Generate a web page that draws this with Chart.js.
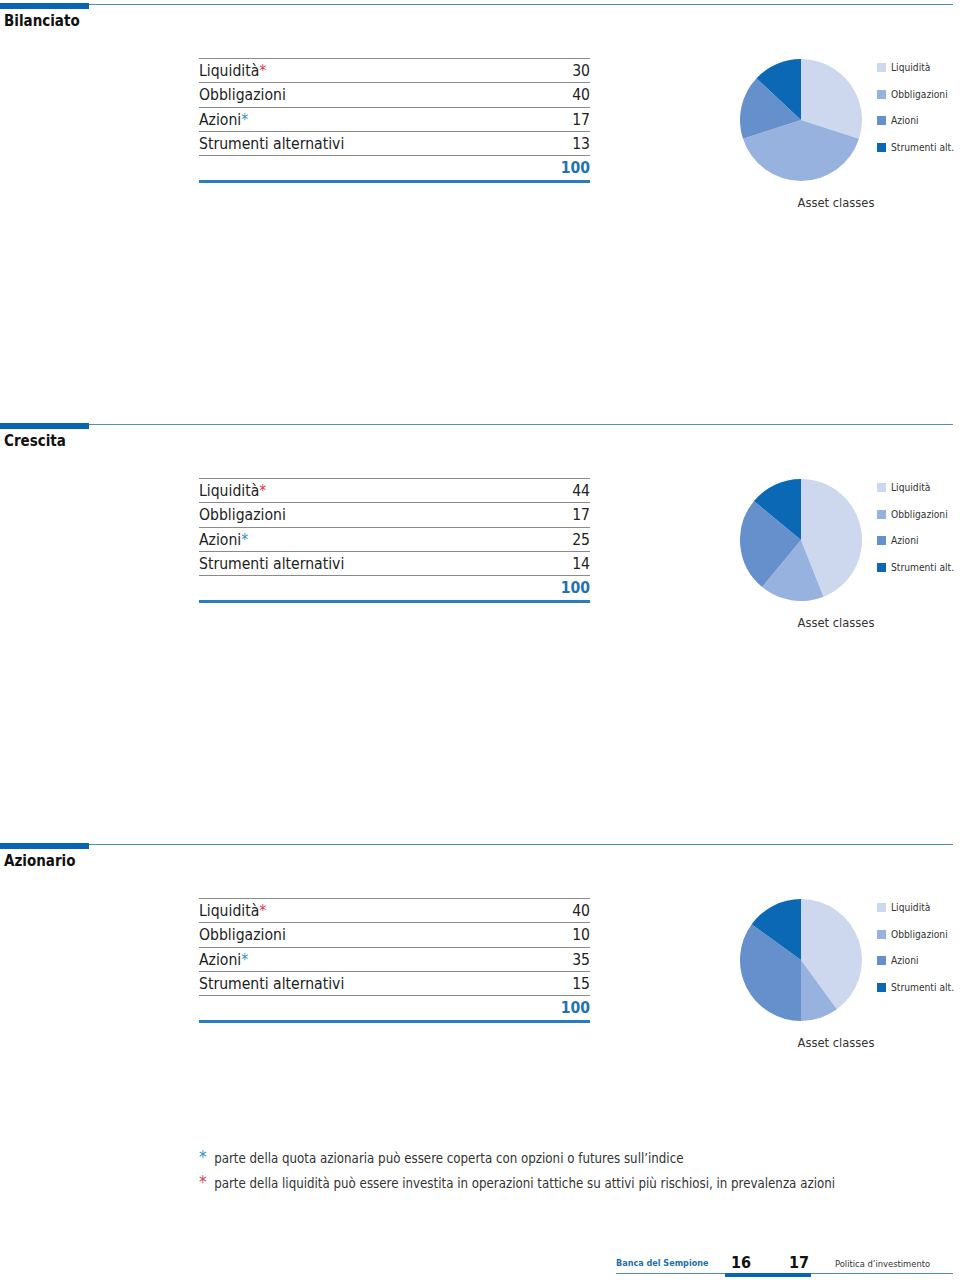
<!DOCTYPE html>
<html lang="it">
<head>
<meta charset="utf-8">
<title>Politica d'investimento - Asset classes</title>
<script src="https://cdn.jsdelivr.net/npm/chart.js@4/dist/chart.umd.min.js"></script>
<style>
    body { margin: 0; width: 960px; height: 1280px; background: #fff; position: relative;
           font-family: "DejaVu Sans Condensed", "DejaVu Sans", sans-serif; font-stretch: condensed; color: #222; overflow: hidden; }
    .abs { position: absolute; white-space: nowrap; }
    .rule-thin { height: 1px; background: #4d93a8; }
    .rule-thick { height: 6px; background: #0a64b4; }
    .title { font-weight: 700; font-size: 15px; color: #111; }
    .row { left: 199px; width: 391px; height: 24px; border-top: 1px solid #8a8a8a; font-size: 15.6px; line-height: 24px; }
    .row .val { position: absolute; right: 0; top: 0; }
    .total { left: 199px; width: 391px; height: 24px; border-top: 1px solid #8a8a8a; border-bottom: 3px solid #2a7cbf;
             font-size: 15.6px; line-height: 24px; font-weight: 700; color: #1f72b0; text-align: right; }
    .star-red { color: #d0404c; }
    .star-blue { color: #3a8fb4; }
    .legend { font-size: 10.2px; color: #333; line-height: 12px; }
    .legend i { display: inline-block; width: 9px; height: 9px; margin-right: 5px; vertical-align: -1px; }
    .caption { font-size: 12.8px; color: #333; width: 160px; text-align: center; }
    .note { font-size: 13.2px; color: #333; }
</style>
</head>
<body>

<script>
// Portfolios and values (percent)
const portfolios = ['Bilanciato', 'Crescita', 'Azionario'];
const assetLabels = ['Liquidità', 'Obbligazioni', 'Azioni', 'Strumenti alternativi'];
const legendLabels = ['Liquidità', 'Obbligazioni', 'Azioni', 'Strumenti alt.'];
const assetStars = ['red', '', 'blue', ''];
const bilanciatoValues = [30, 40, 17, 13];
const crescitaValues = [44, 17, 25, 14];
const azionarioValues = [40, 10, 35, 15];
const portfolioValues = [bilanciatoValues, crescitaValues, azionarioValues];
const assetColors = ['#cdd8ef', '#98b2df', '#6690cc', '#0a68b4'];
const chartTitle = 'Asset classes';
const footnotes = [
    ['blue', 'parte della quota azionaria può essere coperta con opzioni o futures sull\u2019indice'],
    ['red', 'parte della liquidità può essere investita in operazioni tattiche su attivi più rischiosi, in prevalenza azioni']
];

function el(tag, cls, style, html) {
    const e = document.createElement(tag);
    if (cls) e.className = cls;
    if (style) e.style.cssText = style;
    if (html !== undefined) e.innerHTML = html;
    document.body.appendChild(e);
    return e;
}

// Build each section: header, table, pie, legend
portfolios.forEach((name, i) => {
    const top = i * 420;
    const values = portfolioValues[i];

    el('div', 'abs rule-thin', `left:0;width:953px;top:${top + 4}px;`);
    el('div', 'abs rule-thick', `left:0;width:89px;top:${top + 3}px;`);
    el('div', 'abs title', `left:4px;top:${top + 12}px;`, name);

    // table rows
    assetLabels.forEach((label, k) => {
        const star = assetStars[k] ? `<span class="star-${assetStars[k]}">*</span>` : '';
        el('div', 'abs row', `top:${top + 58 + k * 24.3}px;`,
           label + star + `<span class="val">${values[k]}</span>`);
    });
    const total = values.reduce((a, b) => a + b, 0);
    el('div', 'abs total', `top:${top + 155}px;`, total);

    // pie
    const canvas = el('canvas', 'abs', `left:740px;top:${top + 59}px;width:122px;height:122px;`);
    canvas.width = 122;
    canvas.height = 122;
    new Chart(canvas.getContext('2d'), {
        type: 'pie',
        data: {
            labels: legendLabels,
            datasets: [{ data: values, backgroundColor: assetColors, borderWidth: 0 }]
        },
        options: {
            responsive: false,
            animation: false,
            layout: { padding: 0 },
            plugins: { legend: { display: false }, tooltip: { enabled: false } }
        }
    });

    // legend
    legendLabels.forEach((label, k) => {
        el('div', 'abs legend', `left:877px;top:${top + 62 + k * 26.5}px;`,
           `<i style="background:${assetColors[k]}"></i>${label}`);
    });
    el('div', 'abs caption', `left:756px;top:${top + 195}px;`, chartTitle);
});

// Footnotes
footnotes.forEach((note, k) => {
    el('div', 'abs note', `left:199px;top:${1147 + k * 25}px;`,
       `<span class="star-${note[0]}" style="font-size:17px">*</span>&nbsp;&nbsp;${note[1]}`);
});

// Footer
el('div', 'abs', 'left:616px;top:1273px;width:337px;height:1px;background:#4d93a8;');
el('div', 'abs', 'left:725px;top:1273px;width:86px;height:4px;background:#0a64b4;');
el('div', 'abs', 'left:616px;top:1258px;font-size:9px;font-weight:700;color:#1f6fae;', 'Banca del Sempione');
el('div', 'abs', 'left:731px;top:1253px;font-size:16px;font-weight:700;color:#111;', '16');
el('div', 'abs', 'left:789px;top:1253px;font-size:16px;font-weight:700;color:#111;', '17');
el('div', 'abs', 'left:835px;top:1258px;font-size:9.3px;color:#333;', 'Politica d\u2019investimento');
</script>
</body>
</html>
